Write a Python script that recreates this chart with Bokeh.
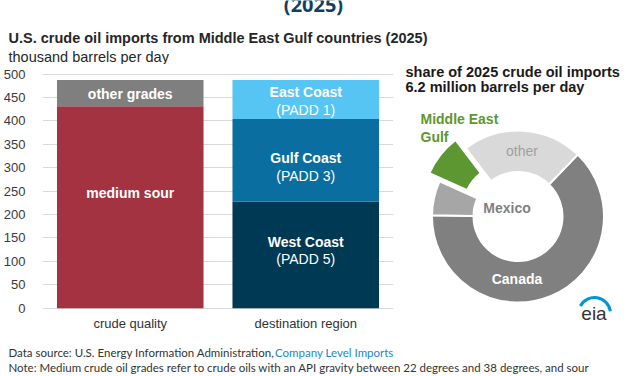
import numpy as np
from bokeh.plotting import figure
from bokeh.layouts import column, row
from bokeh.models import Range1d, FactorRange, FixedTicker, Label
from bokeh.core.properties import value
from bokeh.embed import file_html
from bokeh.resources import INLINE

# ---------------- data ----------------
categories = ["crude quality", "destination region"]
grade_names = ["medium sour", "other grades"]
grade_values = [431, 56]
region_names = ["West Coast", "Gulf Coast", "East Coast"]
region_padd = ["(PADD 5)", "(PADD 3)", "(PADD 1)"]
region_values = [228, 176, 83]
y_ticks = [0, 50, 100, 150, 200, 250, 300, 350, 400, 450, 500]
share_names = ["Canada", "Mexico", "Middle East Gulf", "other"]
share_values = [63.0, 6.5, 7.9, 22.6]

# ---------------- styles / layout ----------------
W, H = 627, 376
HEAD_H, MID_H = 64, 280
BAR_W = 400
Y0_PX, YMAX_PX, YMAX = 307.7, 73.5, 500   # page pixels of value 0 and of value 500
FONT = "Liberation Sans"
FOOT_FONT = "Lato"
grade_colors = ["#a33340", "#7f7f7f"]
region_colors = ["#003953", "#0b6ea1", "#56c5f4"]
share_colors = ["#808080", "#a6a6a6", "#5d9732", "#d9d9d9"]


def blank_fig(x0, x1, py0, py1):
    # figure whose data coordinates equal page pixels (y measured upward from page bottom)
    f = figure(width=int(x1 - x0), height=int(py1 - py0), output_backend="svg",
               toolbar_location=None, x_axis_type=None, y_axis_type=None,
               x_range=Range1d(x0, x1), y_range=Range1d(H - py1, H - py0),
               min_border=0)
    f.outline_line_color = None
    f.grid.visible = False
    return f


def lab(f, text, x, py, size, color="#262626", bold=False, align="left",
        font=FONT, baseline="middle"):
    f.add_layout(Label(x=x, y=H - py, text=text, text_font=font,
                       text_font_size=f"{size}px",
                       text_font_style="bold" if bold else "normal",
                       text_color=color, text_align=align,
                       text_baseline=baseline))


# ---------- header ----------
head = blank_fig(0, W, 0, HEAD_H)
lab(head, "(2025)", 313, 3.5, 20, "#123f61", True, "center", "Open Sans", "alphabetic")
lab(head, "U.S. crude oil imports from Middle East Gulf countries (2025)", 8, 37, 14.5, bold=True)
lab(head, "thousand barrels per day", 8, 56, 14.5)

# ---------- bar chart ----------
k = (Y0_PX - YMAX_PX) / YMAX
v_hi = YMAX + (YMAX_PX - HEAD_H) / k
v_lo = -(HEAD_H + MID_H - Y0_PX) / k
bar = figure(width=BAR_W, height=MID_H, output_backend="svg", toolbar_location=None,
             x_range=FactorRange(*categories, range_padding=0),
             y_range=Range1d(v_lo, v_hi), x_axis_location=None,
             min_border=0, min_border_left=42, min_border_right=7)
bar.outline_line_color = None
bar.xgrid.visible = False
bar.ygrid.grid_line_color = "#d9d9d9"
ya = bar.yaxis[0]
ya.ticker = FixedTicker(ticks=y_ticks)
ya.axis_line_color = None
ya.major_tick_line_color = None
ya.minor_tick_line_color = None
ya.major_label_text_font = FONT
ya.major_label_text_font_size = "13px"
ya.major_label_text_color = "#3a3a3a"
ya.major_label_standoff = 11

# category labels below the value 0 baseline
bar.text(x=categories, y=[0] * len(categories), text=categories, y_offset=15.5,
         text_font=value(FONT), text_font_size=value("13px"), text_color="#333333",
         text_align="center", text_baseline="middle")


def stack(cat, values, colors, names, sub_names=None, offs=None):
    tops = np.cumsum(values)
    bottoms = tops - np.array(values)
    bar.vbar(x=[cat] * len(values), bottom=bottoms, top=tops, width=0.835,
             fill_color=colors, line_color=None)
    mids = (tops + bottoms) / 2
    bar.text(x=[cat] * len(values), y=mids, text=names, y_offset=offs[0],
             text_font=value(FONT), text_font_size=value("14px"),
             text_font_style="bold", text_color="white",
             text_align="center", text_baseline="middle")
    if sub_names:
        bar.text(x=[cat] * len(values), y=mids, text=sub_names, y_offset=offs[1],
                 text_font=value(FONT), text_font_size=value("14px"),
                 text_color="white", text_align="center", text_baseline="middle")


stack(categories[0], grade_values, grade_colors, grade_names, offs=([-14, 0.6],))
stack(categories[1], region_values, region_colors, region_names, region_padd,
      offs=([-13.1, -1.7, -7.3], [4.4, 15.8, 10.2]))

# ---------- donut ----------
pie = blank_fig(BAR_W, W, HEAD_H, HEAD_H + MID_H)
CX, CY = 517.5, H - 216
R_IN, R_OUT = 44.5, 86
total = sum(share_values)
sweep = np.array(share_values) / total * 360
th_start = 44 + np.concatenate([[0], np.cumsum(sweep)[:-1]])
th_end = th_start + sweep
explode = np.array([0, 0, 13, 0])
mid = np.radians(90 - (th_start + th_end) / 2)
pie.annular_wedge(x=CX + explode * np.cos(mid), y=CY + explode * np.sin(mid),
                  inner_radius=R_IN, outer_radius=R_OUT,
                  inner_radius_units="screen", outer_radius_units="screen",
                  start_angle=np.radians(90 - th_end), end_angle=np.radians(90 - th_start),
                  fill_color=share_colors, line_color="white", line_width=2)

# eia logo swoosh
pie.arc(x=[594], y=[H - 313], radius=16, radius_units="screen",
        start_angle=np.radians(8), end_angle=np.radians(152),
        line_color="#0096d7", line_width=3)
lab(pie, "eia", 593.5, 313, 19, "#333333", False, "center")

lab(pie, "share of 2025 crude oil imports", 405, 71, 14.5, "#1a1a1a", True)
lab(pie, "6.2 million barrels per day", 405, 86.5, 14.5, "#1a1a1a", True)
lab(pie, "Middle East", 420, 118, 14, "#5d9732", True)
lab(pie, "Gulf", 420, 136.5, 14, "#5d9732", True)
lab(pie, share_names[3], 521.5, 150, 14, "#a0a0a0", False, "center")
lab(pie, share_names[1], 506.5, 207, 14, "#7f7f7f", True, "center")
lab(pie, share_names[0], 516.5, 278.5, 14, "white", True, "center")

# ---------- footer ----------
foot = blank_fig(0, W, HEAD_H + MID_H, H)
lab(foot, "Data source: U.S. Energy Information Administration,", 8, 352, 11.5, "#333333", font=FOOT_FONT)
lab(foot, "Company Level Imports", 274.5, 352, 11.5, "#1a87c9", font=FOOT_FONT)
lab(foot, "Note: Medium crude oil grades refer to crude oils with an API gravity between 22 degrees and 38 degrees, and sour",
    8, 366.5, 11.5, "#333333", font=FOOT_FONT)

layout = column(head, row(bar, pie, spacing=0), foot, spacing=0)
open("out.html", "w").write(file_html(layout, INLINE))
